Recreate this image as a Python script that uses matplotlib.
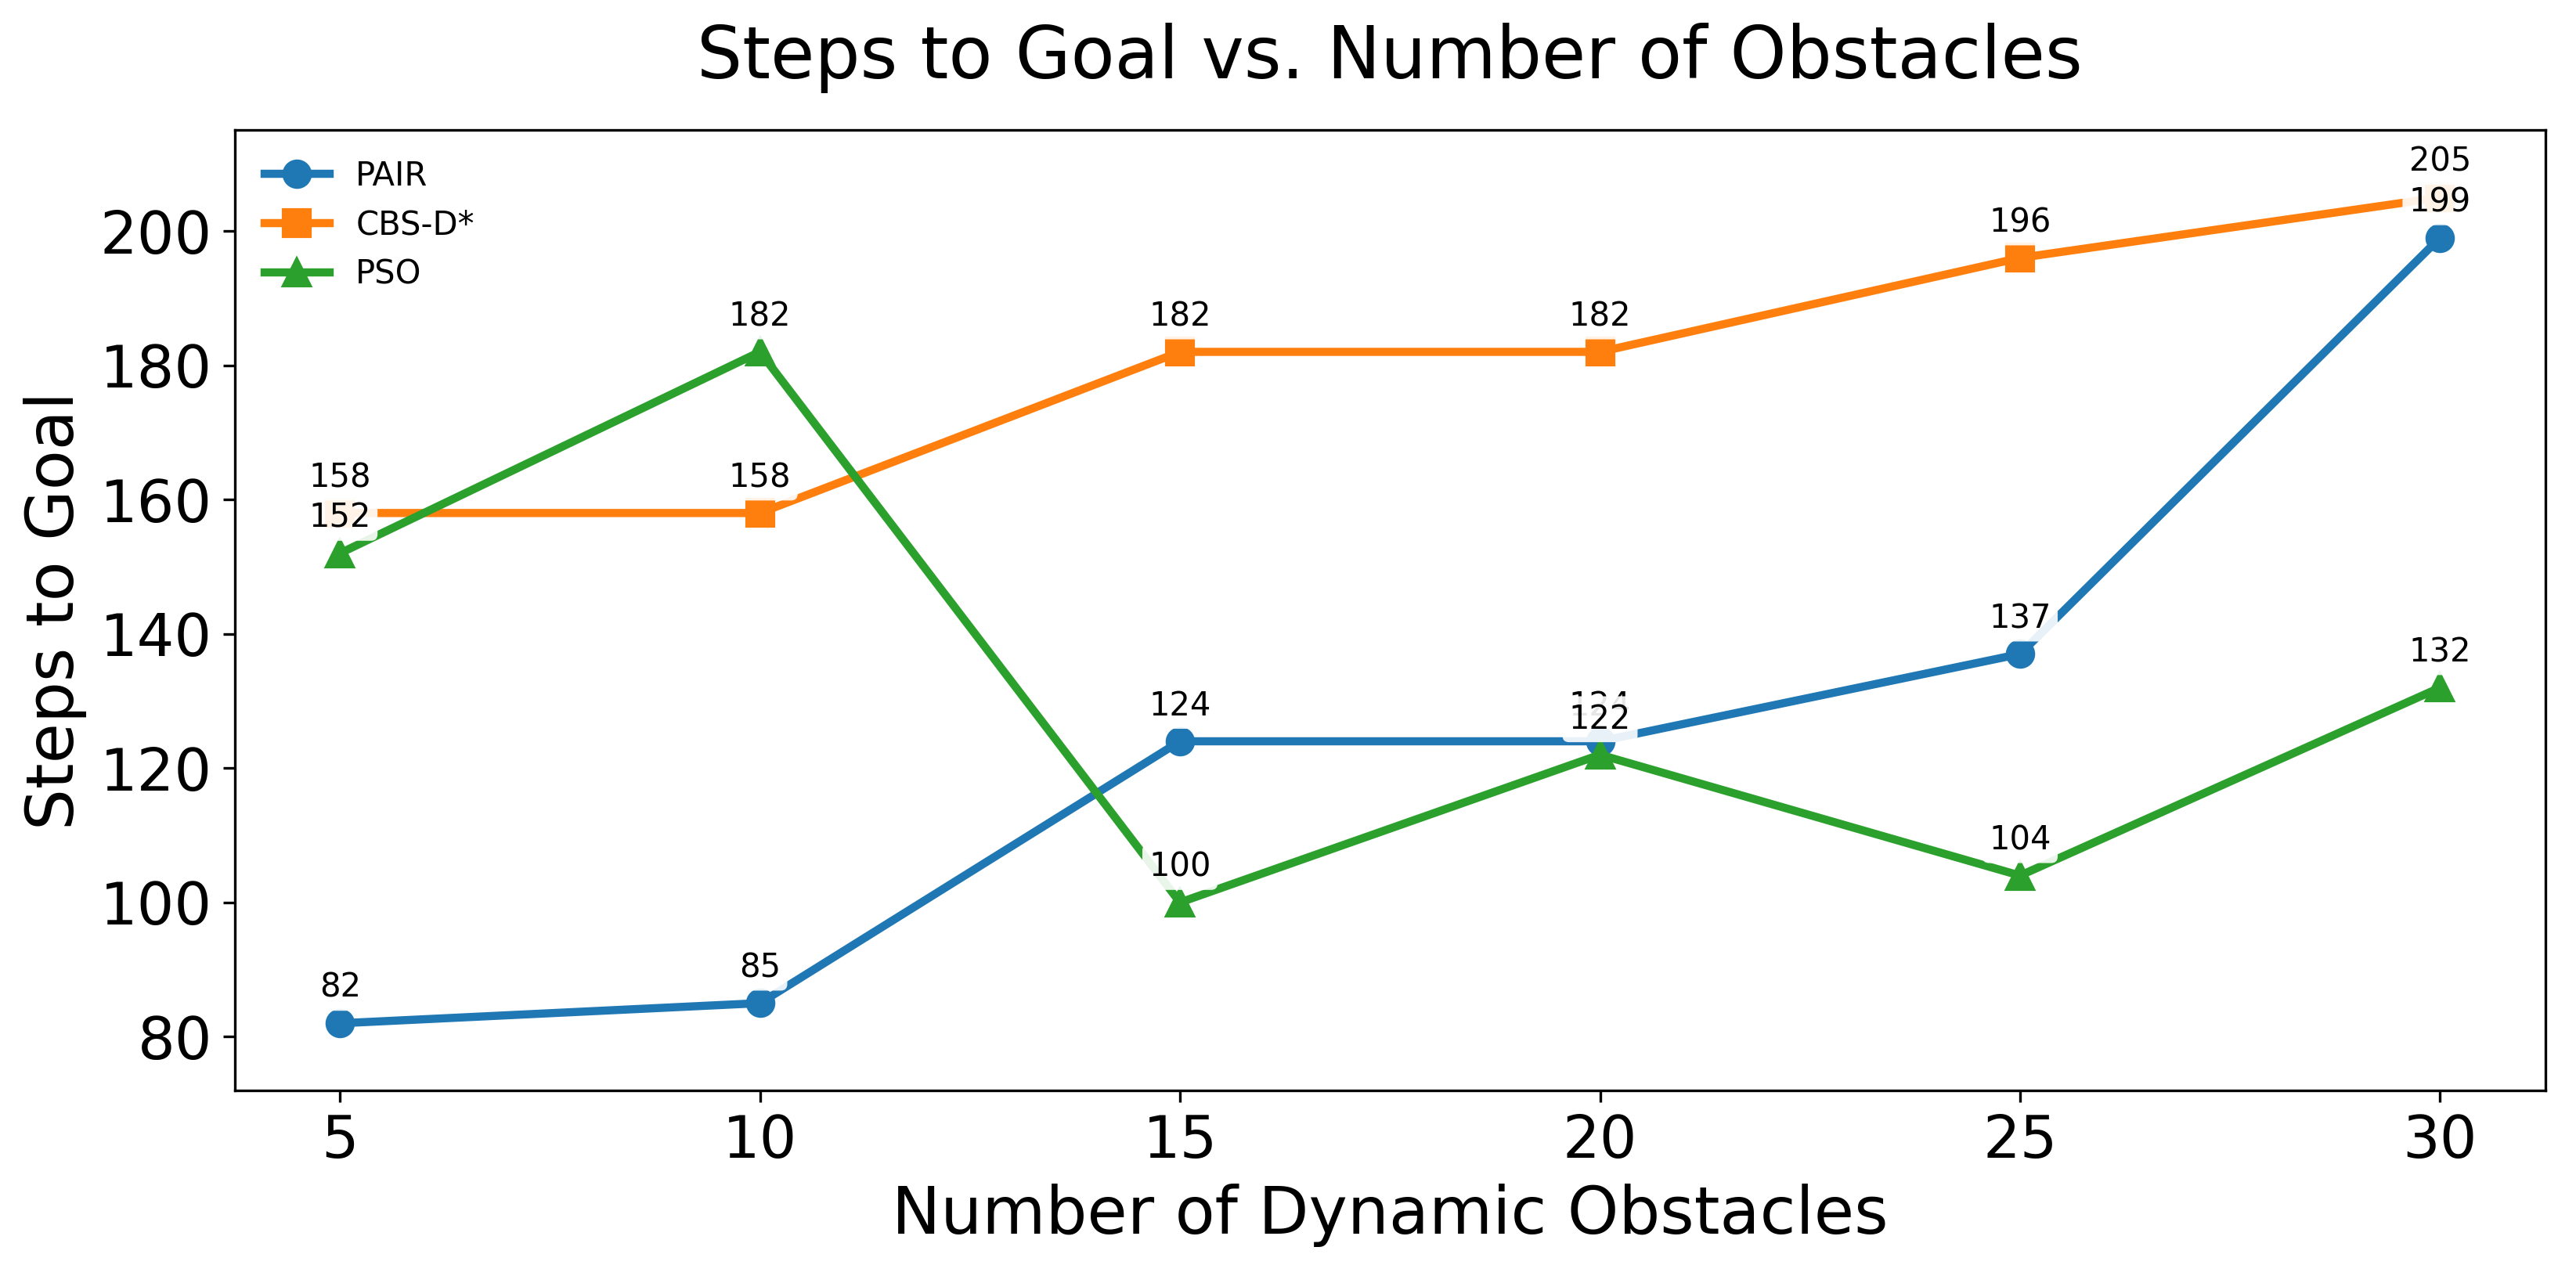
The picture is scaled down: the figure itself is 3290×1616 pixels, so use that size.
import matplotlib
matplotlib.use("Agg")
import matplotlib.pyplot as plt

# =========================================================
# DATA
# =========================================================

obstacles = [5, 10, 15, 20, 25, 30]

pair_steps = [82, 85, 124, 124, 137, 199]
cbs_steps = [158, 158, 182, 182, 196, 205]
pso_steps = [152, 182, 100, 122, 104, 132]

series = [
    ("PAIR", pair_steps, "o"),
    ("CBS-D*", cbs_steps, "s"),
    ("PSO", pso_steps, "^"),
]

# =========================================================
# PLOT
# =========================================================

fig, ax = plt.subplots(figsize=(3290 / 300, 1616 / 300), dpi=300)
fig.subplots_adjust(left=0.0912, right=0.988, top=0.897, bottom=0.138)

for name, values, marker in series:
    ax.plot(obstacles, values, marker=marker, markersize=8,
            linewidth=2.5, label=name)

# value labels above each point
for name, values, marker in series:
    for x, y in zip(obstacles, values):
        ax.annotate(str(y), (x, y), xytext=(0, 8),
                    textcoords="offset points", ha="center", fontsize=10,
                    bbox=dict(boxstyle="round,pad=0.2", fc="white",
                              ec="none", alpha=0.9))

all_values = pair_steps + cbs_steps + pso_steps
ax.set_ylim(min(all_values) - 10, max(all_values) + 10)
ax.set_xticks(obstacles)

ax.set_title("Steps to Goal vs. Number of Obstacles", fontsize=22, pad=16)
ax.set_xlabel("Number of Dynamic Obstacles", fontsize=20)
ax.set_ylabel("Steps to Goal", fontsize=20)
ax.tick_params(axis="both", labelsize=18)

ax.legend(loc="upper left", frameon=False, fontsize=10)

fig.savefig("out.png", dpi=300)
